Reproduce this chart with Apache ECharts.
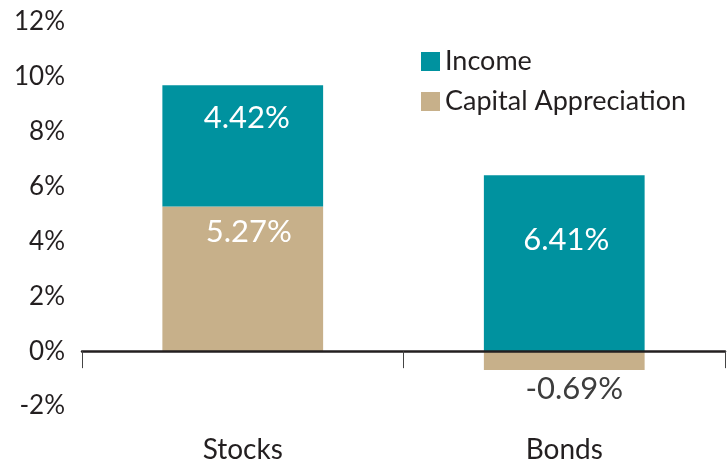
<!DOCTYPE html>
<html>
<head>
<meta charset="utf-8">
<script src="https://cdn.jsdelivr.net/npm/echarts@6/dist/echarts.min.js"></script>
<style>html,body{margin:0;padding:0;background:#fff}#c{width:727px;height:461px}</style>
</head>
<body>
<div id="c"></div>
<script>
const categories = ['Stocks', 'Bonds'];
const incomeValues = [4.42, 6.41];
const capitalValues = [5.27, -0.69];
const seriesNames = ['Income', 'Capital Appreciation'];
const yTicks = [-2, 0, 2, 4, 6, 8, 10, 12];

const FONT = 'Lato';
const TEAL = '#00929F';
const TAN = '#C7B08A';
const DARK = '#231F20';

const incomeLabelCfg = [
  { position: 'insideTop', distance: 17, offset: [4, 0] },
  { position: 'insideTop', distance: 49, offset: [2, 0] }
];
const capitalLabelCfg = [
  { position: 'insideTop', distance: 10, offset: [6, 0], color: '#fff' },
  { position: 'bottom', distance: 3, offset: [10, 0], color: '#3d3d3d' }
];

const chart = echarts.init(document.getElementById('c'));
chart.setOption({
  animation: false,
  backgroundColor: '#fff',
  textStyle: { fontFamily: FONT },
  grid: { left: 82, right: 2, top: 22, bottom: 55, containLabel: false, outerBoundsMode: 'none' },
  legend: {
    orient: 'vertical',
    left: 416,
    top: 43,
    itemWidth: 19,
    itemHeight: 19,
    itemGap: 13,
    icon: 'rect',
    data: seriesNames,
    textStyle: { fontFamily: FONT, fontSize: 27, color: DARK, padding: [0, 0, 0, 0] }
  },
  xAxis: {
    type: 'category',
    data: categories,
    z: 10,
    axisLine: { show: true, onZero: true, lineStyle: { color: DARK, width: 2.5 } },
    axisTick: { show: true, length: 17, lineStyle: { color: '#444', width: 1 } },
    axisLabel: { show: true, fontFamily: FONT, fontSize: 28, lineHeight: 28, color: DARK, margin: 30, hideOverlap: false },
    splitLine: { show: false }
  },
  yAxis: {
    type: 'value',
    min: yTicks[0],
    max: yTicks[yTicks.length - 1],
    interval: yTicks[1] - yTicks[0],
    axisLine: { show: false },
    axisTick: { show: false },
    splitLine: { show: false },
    axisLabel: { fontFamily: FONT, fontSize: 26, color: DARK, margin: 17, formatter: '{value}%' }
  },
  series: [
    {
      name: seriesNames[1],
      type: 'bar',
      stack: 'total',
      barWidth: '50%',
      itemStyle: { color: TAN },
      data: capitalValues.map((v, i) => ({
        value: v,
        label: Object.assign({ show: true, fontFamily: FONT, fontSize: 31, formatter: p => p.value.toFixed(2) + '%' }, capitalLabelCfg[i])
      }))
    },
    {
      name: seriesNames[0],
      type: 'bar',
      stack: 'total',
      barWidth: '50%',
      itemStyle: { color: TEAL },
      data: incomeValues.map((v, i) => ({
        value: v,
        label: Object.assign({ show: true, fontFamily: FONT, fontSize: 31, color: '#fff', formatter: p => p.value.toFixed(2) + '%' }, incomeLabelCfg[i])
      }))
    }
  ]
});
</script>
</body>
</html>
